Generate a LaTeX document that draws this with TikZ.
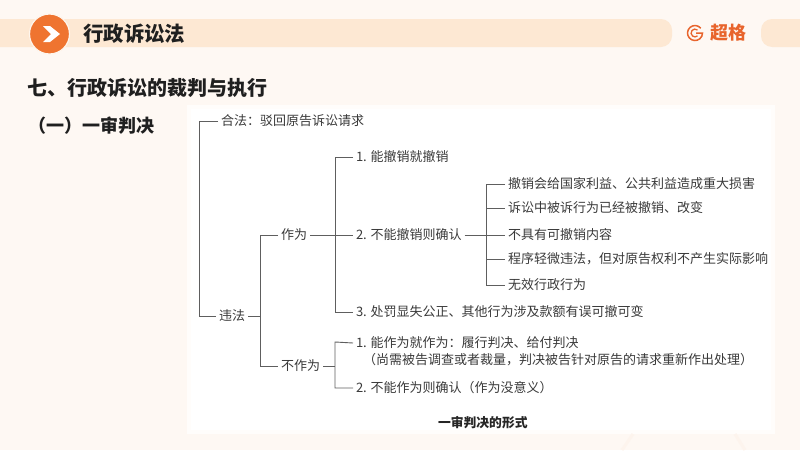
\documentclass[tikz,border=0pt]{standalone}
\usepackage{fontspec}
\setmainfont{Noto Sans CJK SC}
\usetikzlibrary{shapes.geometric}
\definecolor{pageback}{HTML}{FEF8F3}
\definecolor{bandback}{HTML}{FDE8D3}
\definecolor{markorange}{HTML}{EF7430}
\definecolor{brandorange}{HTML}{E8642C}
\definecolor{inkgrey}{HTML}{3A3A3A}
\definecolor{wiregrey}{HTML}{5E5E5E}
\newcommand{\fwcolon}{\symbol{"FF1A}}
\newcommand{\fwcomma}{\symbol{"FF0C}}
\newcommand{\fwopen}{\symbol{"FF08}}
\newcommand{\fwclose}{\symbol{"FF09}}
\tikzset{
    titletext/.style={anchor=west, inner sep=0pt, text=black!88, font=\fontsize{20.4}{24}\selectfont\bfseries},
    treetext/.style={anchor=west, inner sep=0pt, outer sep=3pt, text=inkgrey, text height=10.5pt, text depth=1.5pt, font=\fontsize{13}{15}\selectfont},
    wire/.style={draw=wiregrey, line width=0.9pt}
}
\begin{document}
\begin{tikzpicture}[x=1pt, y=-1pt]
    	\useasboundingbox (0, 0) rectangle (800, 450);
    	% Page, bands and panel:
    	\fill[pageback] (0, 0) rectangle (800, 450);
    	\fill[bandback, rounded corners=11pt] (-20, 19) rectangle (672, 47);
    	\fill[bandback, rounded corners=11pt] (761, 19) rectangle (830, 47);
    	\fill[white!70!pageback] (187, 105) rectangle (775, 434);
    	\fill[white] (191, 109) rectangle (771, 430);
    	\draw[pageback!97!brandorange, line width=3pt] (622, 450) -- (633, 434);
    	\draw[pageback!97!brandorange, line width=3pt] (745, 450) -- (735, 434);
    	% Header mark and brand:
    	\node[circle, fill=markorange, draw=white!60!bandback, line width=1.2pt, minimum size=40pt, inner sep=0pt](Nmark) at (49.5, 34){};
    	\fill[white] (43, 26) -- (50, 26) -- (60, 34) -- (50, 42) -- (43, 42) -- (51, 34) -- cycle;
    	\draw[brandorange, line width=1.5pt] (700.75, 28.2) arc (-40:-360:7.5) -- (696, 33);
    	\draw[brandorange, line width=1.3pt] (697.5, 30) arc (-50:-310:3.9);
    	\node[anchor=west, inner sep=0pt, text=brandorange, font=\fontsize{18}{20}\selectfont\bfseries](Nbrand) at (710, 33){超格};
    	% Headings:
    	\node[titletext](Ntitle) at (83, 34){行政诉讼法};
    	\node[titletext, font=\fontsize{20}{24}\selectfont\bfseries](Nsection) at (27, 88){七、行政诉讼的裁判与执行};
    	\node[titletext, font=\fontsize{18}{22}\selectfont\bfseries](Nsub) at (28, 126){\fwopen 一\fwclose 一审判决};
    	% Tree labels:
    	\node[treetext](Nlegal) at (218, 121){合法\fwcolon 驳回原告诉讼请求};
    	\node[treetext](Nillegal) at (216, 316){违法};
    	\node[treetext](Nact) at (278, 235){作为};
    	\node[treetext](Nomit) at (278, 366){不作为};
    	\node[treetext](Nrevoke) at (353, 157){1. 能撤销就撤销};
    	\node[treetext](Nconfirm) at (353, 235){2. 不能撤销则确认};
    	\node[treetext](Nvary) at (353, 312){3. 处罚显失公正、其他行为涉及款额有误可撤可变};
    	\node[treetext](Ncando) at (353, 343){1. 能作为就作为\fwcolon 履行判决、给付判决};
    	\node[treetext](Nredo) at (360, 360){\fwopen 尚需被告调查或者裁量\fwcomma 判决被告针对原告的请求重新作出处理\fwclose};
    	\node[treetext](Ncannot) at (353, 388){2. 不能作为则确认\fwopen 作为没意义\fwclose};
    	\node[treetext](Nharm) at (505, 184){撤销会给国家利益、公共利益造成重大损害};
    	\node[treetext](Nchanged) at (505, 208){诉讼中被诉行为已经被撤销、改变};
    	\node[treetext](Nnothing) at (505, 235){不具有可撤销内容};
    	\node[treetext](Nminor) at (505, 259){程序轻微违法\fwcomma 但对原告权利不产生实际影响};
    	\node[treetext](Nvoid) at (505, 285){无效行政行为};
    	\node[treetext, font=\fontsize{12.8}{15}\selectfont\bfseries, text=black!85](Ncaption) at (435, 423){一审判决的形式};
    	% Brackets and wires:
    	\coordinate (B1) at (199, 121);
    	\coordinate (B2) at (260, 235);
    	\coordinate (B3) at (335, 157);
    	\coordinate (B4) at (335, 342);
    	\coordinate (B5) at (486, 184);
    	\draw[wire] (Nlegal.west) -- (B1) |- (Nillegal.west);
    	\draw[wire] (Nillegal.east) -- (B2 |- Nillegal.east);
    	\draw[wire] (Nact.west) -- (B2) |- (Nomit.west);
    	\draw[wire] (Nact.east) -- (Nconfirm.west);
    	\draw[wire] (Nrevoke.west) -- (B3) |- (Nvary.west);
    	\draw[wire] (Nomit.east) -- (B4 |- Nomit.east);
    	\draw[wire] (Ncando.west) -- (B4) |- (Ncannot.west);
    	\draw[wire] (Nconfirm.east) -- (Nnothing.west);
    	\draw[wire] (Nharm.west) -- (B5) |- (Nvoid.west);
    	\draw[wire] (B5 |- Nchanged.west) -- (Nchanged.west);
    	\draw[wire] (B5 |- Nminor.west) -- (Nminor.west);
    \end{tikzpicture}
\end{document}
